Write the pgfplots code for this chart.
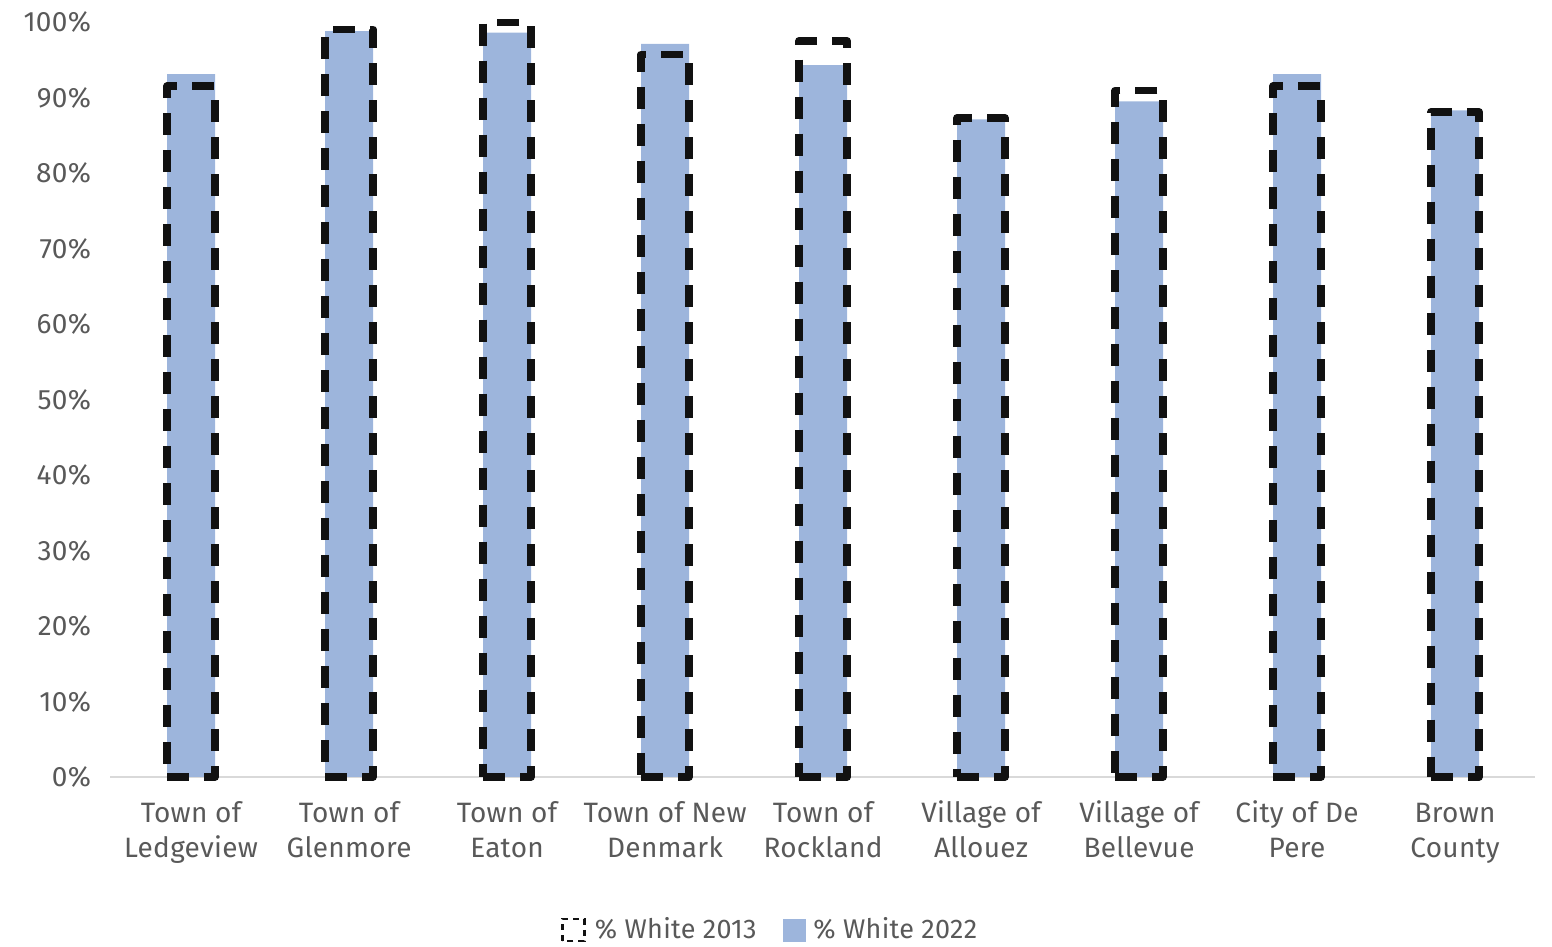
\documentclass[border=0pt]{standalone}
\usepackage{fontspec}
\setmainfont{Fira Sans}[LetterSpace=1]
\usepackage{pgfplots}
\pgfplotsset{compat=1.18}
\definecolor{bar22}{RGB}{157,181,220}
\definecolor{txt}{RGB}{89,89,89}
\definecolor{axisgray}{RGB}{217,217,217}
\definecolor{outl}{RGB}{17,17,17}

\pgfplotstableread{
idx w2013 w2022
0 91.5 93.1
1 99.0 98.8
2 99.9 98.6
3 95.7 97.1
4 97.5 94.3
5 87.3 87.1
6 90.9 89.5
7 91.5 93.1
8 88.1 88.3
}\whitedata

\begin{document}
\begin{tikzpicture}
\path[use as bounding box] (0,0) rectangle (776pt,473.5pt);
\begin{axis}[
  at={(55pt,85pt)}, anchor=south west,
  scale only axis, width=712.5pt, height=377.5pt,
  xmin=-0.513, xmax=8.506, ymin=0, ymax=100,
  clip=false,
  axis line style={draw=none},
  xtick=data,
  xticklabels={{Town of\\Ledgeview},{Town of\\Glenmore},{Town of\\Eaton},{Town of New\\Denmark},{Town of\\Rockland},{Village of\\Allouez},{Village of\\Bellevue},{City of De\\Pere},{Brown\\County}},
  ytick={0,10,...,100},
  yticklabels={0\%,10\%,20\%,30\%,40\%,50\%,60\%,70\%,80\%,90\%,100\%},
  major tick length=0pt,
  typeset ticklabels with strut,
  tick label style={font=\fontsize{14}{17.5}\selectfont, text=txt},
  xticklabel style={align=center, yshift=-7pt},
  yticklabel style={xshift=-6pt, yshift=-1.5pt},
  legend style={at={(0.464,-0.2026)}, anchor=center, draw=none, fill=none,
    legend columns=2, font=\fontsize{13.5}{16}\selectfont, text=txt,
    /tikz/every even column/.append style={column sep=11pt}},
]
\addlegendimage{legend image code/.code={\draw[outl, line width=1.2pt, dash pattern=on 3pt off 2.5pt] (0pt,-5.5pt) rectangle (11pt,5.5pt); \path (14pt,0pt);}}
\addlegendentry{\% White 2013}
\addlegendimage{legend image code/.code={\fill[bar22] (0pt,-5.5pt) rectangle (11pt,5.5pt); \path (13pt,0pt);}}
\addlegendentry{\% White 2022}
% baseline
\draw[axisgray, line width=0.75pt] (rel axis cs:0,0) -- (rel axis cs:1,0);
\addplot[ybar, bar width=24pt, bar shift=0pt, fill=bar22, draw=none, forget plot]
  table[x=idx, y=w2022] {\whitedata};
\addplot[ybar, bar width=24pt, bar shift=0pt, fill=none, draw=outl, line width=3.75pt,
  dash pattern=on 11pt off 7.5pt, line join=round, forget plot]
  table[x=idx, y=w2013] {\whitedata};
\end{axis}
\end{tikzpicture}
\end{document}
